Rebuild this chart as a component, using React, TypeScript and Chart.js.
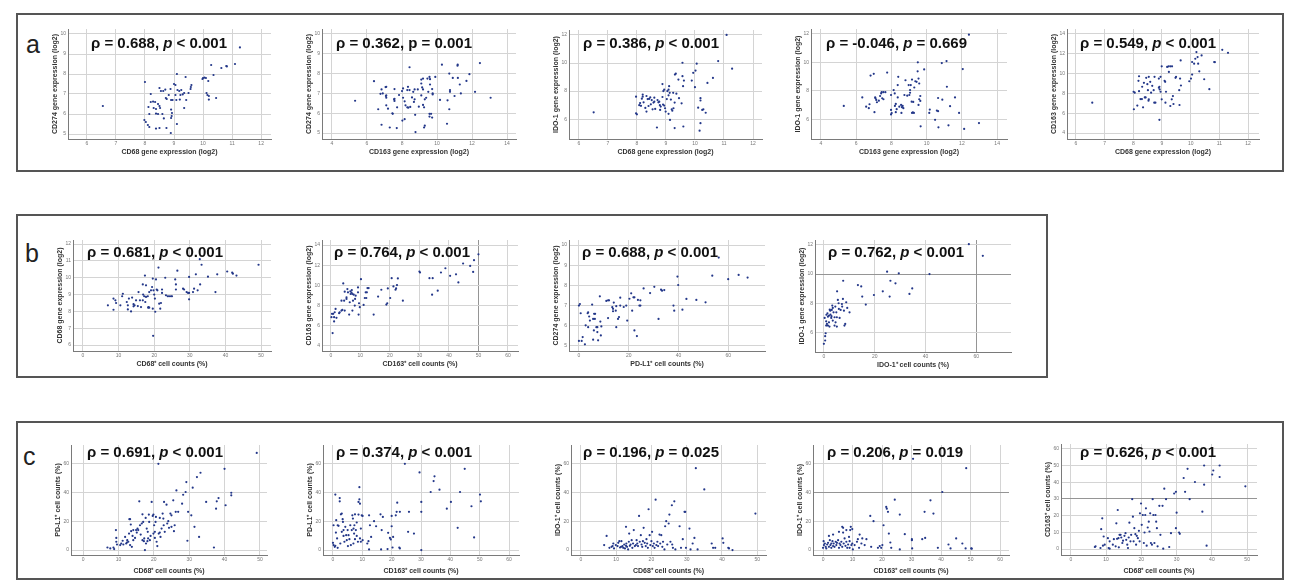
import React, { useEffect, useRef } from 'react';
import { Chart, registerables } from 'chart.js';
Chart.register(...registerables);

type Pt = [number, number];

// ---------- data (x, y) ----------
const a1Points: Pt[] = [[6.55,6.4],[8.0,7.6],[7.98,5.7],[8.03,5.6],[8.1,5.45],[8.15,5.35],[8.15,6.0],[8.12,6.35],[8.2,7.0],[8.2,6.6],[8.28,6.62],[8.3,6.3],[8.35,6.6],[8.38,6.25],[8.38,6.02],[8.45,6.5],[8.45,6.0],[8.38,5.27],[8.5,7.3],[8.5,6.4],[8.52,6.3],[8.5,5.3],[8.55,7.15],[8.6,6.0],[8.63,7.15],[8.65,5.78],[8.7,7.22],[8.72,6.8],[8.75,6.75],[8.74,5.3],[8.82,6.95],[8.88,7.25],[8.9,6.7],[8.9,6.22],[8.93,6.05],[8.92,5.9],[8.9,5.8],[8.89,5.05],[8.95,6.7],[9.0,7.5],[9.05,7.45],[9.05,6.95],[9.08,6.7],[9.1,8.0],[9.1,5.5],[9.12,7.2],[9.18,7.15],[9.2,6.72],[9.22,6.95],[9.25,7.2],[9.3,6.98],[9.35,6.3],[9.35,7.05],[9.4,7.85],[9.42,6.7],[9.5,7.05],[9.57,7.25],[9.58,7.35],[9.6,7.45],[9.98,7.75],[10.0,7.8],[10.05,7.82],[10.1,7.8],[10.12,7.05],[10.15,6.95],[10.18,7.65],[10.2,6.9],[10.2,6.72],[10.28,8.45],[10.36,7.95],[10.45,6.8],[10.63,8.3],[10.8,8.4],[10.82,8.38],[11.1,8.5],[11.27,9.33]];

const a2Points: Pt[] = [[5.32,6.63],[6.4,7.62],[6.64,6.2],[6.77,6.98],[6.83,7.2],[6.9,7.0],[6.83,5.42],[7.06,7.32],[7.1,7.33],[7.08,6.87],[7.1,6.9],[7.1,6.78],[7.1,6.4],[7.2,6.23],[7.3,5.28],[7.45,6.0],[7.47,5.97],[7.55,6.7],[7.57,6.62],[7.57,6.73],[7.57,7.22],[7.7,5.25],[7.72,6.3],[7.83,6.92],[8.0,7.12],[8.06,7.25],[8.06,6.78],[8.02,5.63],[8.15,5.7],[8.15,6.6],[8.2,6.4],[8.3,6.3],[8.36,6.28],[8.3,7.17],[8.34,7.33],[8.43,7.17],[8.43,8.32],[8.47,6.32],[8.57,6.8],[8.64,7.08],[8.72,7.2],[8.72,6.7],[8.68,6.57],[8.75,5.92],[8.77,5.05],[8.9,7.2],[8.96,6.33],[9.1,6.9],[9.1,7.5],[9.1,7.7],[9.15,7.3],[9.2,7.2],[9.2,6.42],[9.26,6.3],[9.26,5.28],[9.3,5.37],[9.2,7.75],[9.3,6.7],[9.38,6.78],[9.45,7.75],[9.5,7.08],[9.57,7.83],[9.6,7.72],[9.6,7.45],[9.57,5.97],[9.66,5.97],[9.57,5.83],[9.72,5.78],[9.72,7.22],[9.75,7.0],[9.75,6.95],[9.9,7.83],[10.17,6.67],[10.28,8.45],[10.57,5.47],[10.6,6.65],[10.7,8.0],[10.74,7.17],[10.74,7.08],[10.7,6.2],[10.9,7.78],[11.0,6.87],[11.17,8.4],[11.18,8.45],[11.19,7.78],[11.3,7.45],[11.36,7.0],[11.68,7.63],[11.85,7.97],[12.17,7.08],[12.45,8.53],[13.06,6.78]];

const a3Points: Pt[] = [[6.51,6.49],[7.97,7.6],[7.97,6.42],[8.0,6.35],[8.08,7.0],[8.11,7.15],[8.14,6.95],[8.17,7.46],[8.2,7.75],[8.2,7.6],[8.23,7.2],[8.29,6.8],[8.33,6.54],[8.33,7.65],[8.37,7.43],[8.4,6.94],[8.42,7.44],[8.46,7.55],[8.48,7.06],[8.51,7.36],[8.54,6.7],[8.57,7.18],[8.6,7.25],[8.6,7.53],[8.63,6.73],[8.69,5.41],[8.71,7.36],[8.74,7.2],[8.77,7.25],[8.79,7.0],[8.82,6.9],[8.8,6.66],[8.88,7.58],[8.9,7.04],[8.94,6.97],[8.88,8.5],[8.91,8.0],[8.94,8.1],[8.97,6.78],[8.99,6.54],[9.03,7.43],[9.05,8.0],[9.09,8.1],[9.09,7.7],[9.09,6.38],[9.11,8.35],[9.13,7.88],[9.17,7.4],[9.14,5.95],[9.2,6.7],[9.22,6.6],[9.26,6.78],[9.25,7.88],[9.3,7.18],[9.31,9.18],[9.34,9.24],[9.36,7.82],[9.3,5.37],[9.43,8.82],[9.45,7.5],[9.54,7.13],[9.57,10.02],[9.57,9.06],[9.59,8.35],[9.62,8.75],[9.6,5.48],[9.89,8.75],[9.94,9.3],[10.0,8.28],[10.02,9.46],[10.06,9.95],[10.11,6.82],[10.16,5.18],[10.19,7.5],[10.19,7.33],[10.19,5.72],[10.25,6.66],[10.29,6.7],[10.37,6.46],[10.43,8.58],[10.62,8.94],[10.8,10.14],[11.09,12.0],[11.28,9.6]];

const a4Points: Pt[] = [[5.3,6.93],[6.35,7.53],[6.57,6.88],[6.72,6.77],[6.76,7.05],[6.82,9.07],[7.0,9.19],[7.04,6.49],[7.08,7.53],[7.1,7.47],[7.14,7.35],[7.18,7.19],[7.29,7.3],[7.36,7.63],[7.42,7.81],[7.45,7.9],[7.48,7.47],[7.55,7.4],[7.55,7.9],[7.66,7.9],[7.76,9.28],[7.98,7.7],[7.98,6.65],[7.98,6.33],[8.02,6.43],[8.13,8.05],[8.19,7.81],[8.2,6.93],[8.25,7.07],[8.25,6.49],[8.3,6.7],[8.36,8.4],[8.36,7.53],[8.39,8.98],[8.45,6.88],[8.55,7.0],[8.57,6.44],[8.6,6.84],[8.64,6.93],[8.68,6.77],[8.74,7.7],[8.8,8.74],[8.9,7.65],[8.98,8.4],[9.02,7.7],[9.06,8.05],[9.06,7.86],[9.1,8.4],[9.15,7.23],[9.17,6.44],[9.17,8.79],[9.22,6.47],[9.28,6.44],[9.24,7.21],[9.3,8.23],[9.36,8.67],[9.43,8.63],[9.49,9.37],[9.5,10.0],[9.54,7.0],[9.54,8.86],[9.58,8.51],[9.58,7.4],[9.64,7.63],[9.64,7.28],[9.66,5.49],[9.86,9.5],[10.15,6.44],[10.18,6.67],[10.48,5.95],[10.58,6.6],[10.65,6.56],[10.65,7.49],[10.67,5.42],[10.89,7.37],[10.86,9.95],[11.13,10.09],[11.15,8.28],[11.24,5.56],[11.33,6.91],[11.61,7.53],[11.84,6.44],[12.05,9.53],[12.13,5.31],[12.4,11.95],[12.97,5.72]];

const a5Points: Pt[] = [[6.57,7.07],[8.02,6.4],[8.01,8.17],[8.05,8.07],[8.14,6.77],[8.18,9.27],[8.2,9.73],[8.2,8.23],[8.25,7.43],[8.3,7.43],[8.31,8.67],[8.34,6.6],[8.37,9.07],[8.4,7.6],[8.43,7.6],[8.45,9.57],[8.49,8.93],[8.51,8.33],[8.54,9.67],[8.53,7.27],[8.54,7.4],[8.59,9.17],[8.62,8.07],[8.66,8.77],[8.71,8.33],[8.73,7.07],[8.77,7.07],[8.74,9.67],[8.89,9.5],[8.91,8.67],[8.89,8.57],[8.92,8.4],[8.95,8.17],[8.91,5.33],[8.95,9.67],[8.99,10.73],[8.99,7.4],[9.09,9.27],[9.11,9.17],[9.12,7.07],[9.14,8.17],[9.18,10.67],[9.23,10.73],[9.24,10.17],[9.29,10.73],[9.35,10.73],[9.29,6.73],[9.34,7.4],[9.38,7.73],[9.4,6.93],[9.47,9.57],[9.49,9.67],[9.6,8.33],[9.61,6.83],[9.63,9.5],[9.65,11.33],[9.66,8.8],[9.95,9.23],[10.01,9.5],[10.05,9.9],[10.05,11.17],[10.12,11.0],[10.16,11.5],[10.2,12.17],[10.24,11.67],[10.26,11.0],[10.3,10.23],[10.38,11.83],[10.47,9.43],[10.65,8.43],[10.82,11.17],[10.84,11.15],[11.1,12.4],[11.3,12.1]];

const b1Points: Pt[] = [[7.0,8.36],[8.57,8.1],[8.57,8.76],[9.1,8.66],[9.3,8.5],[10.5,8.36],[11.0,8.9],[11.2,9.05],[12.3,8.56],[12.6,8.36],[12.9,8.76],[12.6,8.12],[13.5,8.0],[13.8,8.82],[14.2,8.3],[14.2,8.43],[14.5,8.36],[14.9,8.66],[15.4,8.32],[15.6,9.15],[16.0,8.66],[16.3,8.26],[16.8,9.6],[16.8,8.66],[16.9,9.0],[17.2,8.9],[17.4,10.13],[17.5,8.56],[17.7,9.55],[17.7,8.86],[18.2,8.9],[18.3,8.22],[18.4,8.26],[18.6,8.22],[18.6,9.15],[19.1,9.25],[19.4,9.45],[19.6,9.95],[19.6,8.16],[19.7,6.55],[19.8,9.25],[20.0,9.0],[20.2,8.76],[20.3,7.98],[20.5,9.9],[20.7,9.3],[20.9,9.25],[21.2,10.6],[21.4,8.46],[21.7,8.16],[21.9,8.5],[22.2,9.3],[22.2,9.1],[23.1,10.0],[23.3,8.96],[23.8,8.9],[24.2,8.9],[24.7,8.9],[25.0,8.9],[25.9,9.9],[26.1,9.6],[26.1,9.3],[26.5,10.42],[28.1,9.35],[28.4,9.3],[29.1,9.15],[29.5,9.1],[29.8,10.05],[29.8,8.72],[29.8,9.1],[30.9,9.15],[31.2,9.35],[31.7,10.2],[32.2,9.25],[32.8,11.1],[32.9,9.6],[33.3,10.77],[35.1,10.06],[37.2,9.15],[37.7,10.2],[40.5,10.37],[41.9,10.3],[42.1,10.24],[43.1,10.13],[49.3,10.77]];

const b2Points: Pt[] = [[0.2,6.85],[0.4,7.18],[0.8,7.18],[0.6,5.28],[1.1,6.85],[1.1,6.43],[1.3,7.34],[1.6,7.67],[1.9,6.79],[2.8,7.25],[3.0,7.34],[3.6,8.49],[3.6,7.51],[3.9,7.57],[4.2,10.2],[4.5,8.49],[4.7,7.51],[4.7,9.38],[5.3,8.66],[5.3,8.82],[5.6,9.64],[5.8,9.31],[6.2,7.11],[6.4,8.33],[6.6,9.41],[6.7,9.15],[7.0,9.28],[7.1,9.54],[7.3,9.15],[7.3,7.51],[7.5,8.49],[7.75,9.08],[8.1,8.0],[8.2,8.66],[8.4,8.98],[9.2,9.8],[9.2,9.31],[9.4,7.11],[9.55,8.23],[9.8,7.84],[10.2,10.62],[11.1,8.07],[11.5,8.75],[11.8,9.31],[12.2,9.31],[12.0,8.75],[12.4,9.74],[12.8,9.74],[14.5,7.11],[16.0,8.89],[17.1,9.57],[19.3,9.7],[18.8,8.1],[19.1,8.23],[20.1,8.75],[20.6,10.72],[21.2,9.9],[21.9,9.57],[22.1,9.7],[22.4,10.03],[22.7,10.69],[24.4,8.49],[30.0,11.38],[30.2,11.28],[33.4,10.72],[34.5,10.72],[34.3,9.08],[36.2,9.48],[37.3,11.28],[38.8,11.7],[40.4,10.95],[42.4,11.1],[43.2,10.3],[44.8,12.17],[47.2,11.93],[48.2,11.34],[48.5,12.5],[50.0,13.08]];

const b3Points: Pt[] = [[0.0,7.0],[0.4,7.08],[0.0,5.25],[1.1,5.25],[0.7,6.62],[1.5,5.44],[2.4,5.08],[2.7,6.02],[3.5,6.62],[3.7,6.67],[3.7,5.93],[4.1,6.46],[4.4,6.26],[5.3,7.05],[5.7,6.34],[5.7,5.31],[6.0,5.77],[6.1,6.59],[6.5,6.59],[6.4,6.34],[7.0,5.93],[7.4,5.93],[7.4,5.69],[7.7,5.28],[8.4,7.46],[8.6,6.21],[9.0,5.97],[8.8,5.52],[11.0,7.23],[11.7,7.26],[12.1,7.26],[11.7,6.38],[13.4,6.92],[13.7,6.84],[13.7,6.72],[14.0,7.15],[14.8,6.75],[15.0,6.97],[15.0,5.93],[15.7,6.34],[16.1,6.43],[16.6,7.39],[16.6,7.0],[18.0,6.93],[19.0,7.0],[19.4,6.26],[20.3,7.34],[21.0,7.61],[21.4,6.75],[21.9,7.41],[22.3,7.41],[22.3,5.77],[23.3,5.49],[23.7,7.28],[24.3,7.0],[24.7,7.0],[24.7,7.26],[26.0,7.85],[28.6,7.62],[30.3,7.93],[32.0,6.34],[33.0,7.79],[33.4,7.74],[34.3,7.77],[38.0,7.0],[38.3,6.75],[39.6,8.44],[39.9,8.02],[41.6,6.8],[43.2,7.33],[47.2,7.28],[50.9,7.16],[53.6,8.48],[56.2,9.38],[60.0,8.31],[64.2,8.52],[67.8,8.39]];

const b4Points: Pt[] = [[0.0,5.2],[0.5,5.43],[0.5,5.73],[0.7,5.93],[0.3,6.98],[0.9,6.75],[1.2,6.57],[1.6,6.46],[0.9,6.46],[1.6,7.07],[2.0,7.14],[2.0,6.68],[2.2,6.39],[2.5,7.48],[2.6,7.21],[2.9,6.98],[3.1,7.53],[3.3,7.83],[3.5,7.67],[3.5,6.8],[3.8,7.37],[4.2,7.03],[4.2,6.46],[4.5,7.76],[4.6,6.68],[4.9,7.37],[5.1,6.39],[5.1,7.03],[5.2,8.81],[5.5,8.22],[5.8,7.99],[5.9,7.6],[6.2,6.98],[6.6,7.53],[7.1,7.94],[7.2,7.76],[7.5,8.29],[7.6,9.54],[7.9,7.48],[8.1,6.46],[8.4,6.57],[8.8,8.06],[9.2,7.67],[10.1,7.37],[1.4,7.3],[2.3,7.55],[3.0,7.1],[1.0,7.2],[13.4,9.24],[14.7,9.15],[15.1,8.45],[16.5,7.9],[19.7,8.56],[23.2,8.81],[24.9,10.16],[25.9,8.45],[26.2,9.54],[28.2,9.36],[29.5,10.05],[33.7,8.63],[34.8,9.01],[41.6,10.0],[57.1,12.05],[62.6,11.25]];

const c1Points: Pt[] = [[6.9,1.8],[7.7,1.2],[8.6,1.8],[8.8,0.7],[9.3,13.9],[9.4,8.5],[9.4,5.8],[9.6,3.9],[10.5,3.5],[10.8,4.6],[11.2,6.5],[11.4,3.9],[11.9,9.2],[12.2,4.6],[12.4,5.3],[12.5,6.9],[12.8,5.8],[13.0,11.5],[13.1,21.5],[13.3,21.5],[13.3,3.5],[13.5,17.8],[13.6,13.2],[13.8,2.3],[14.0,9.9],[14.2,6.9],[14.2,13.9],[14.7,8.5],[15.0,13.9],[15.2,12.2],[15.4,15.0],[15.6,13.9],[15.9,33.9],[16.1,17.3],[16.3,10.8],[16.6,18.5],[16.8,24.9],[16.8,6.9],[17.0,19.6],[17.2,6.2],[17.3,8.1],[17.5,0.0],[17.7,22.4],[17.8,4.6],[18.0,15.0],[18.2,6.2],[18.3,12.7],[18.4,8.1],[18.6,24.7],[18.7,19.6],[18.9,6.9],[19.1,9.9],[19.4,33.5],[19.7,23.8],[19.9,24.7],[19.9,11.5],[20.1,17.3],[20.3,12.7],[20.3,8.5],[20.5,19.6],[20.6,23.1],[20.8,5.8],[21.0,2.8],[21.3,60.0],[21.4,11.5],[21.7,12.2],[21.7,22.4],[21.9,9.2],[22.2,15.0],[22.5,25.4],[22.7,21.9],[22.8,17.3],[22.9,33.5],[23.1,12.7],[23.6,31.6],[23.8,18.5],[24.1,20.1],[24.3,15.5],[24.7,25.4],[25.0,16.2],[25.0,24.2],[25.5,34.6],[25.7,13.2],[25.9,17.3],[26.2,26.6],[26.4,41.5],[26.9,26.6],[28.0,32.3],[28.3,38.5],[29.0,40.4],[29.2,47.3],[29.5,6.5],[29.7,26.6],[30.6,24.2],[31.0,43.4],[31.5,16.2],[32.2,50.8],[32.8,9.2],[33.2,53.8],[34.8,33.5],[37.0,1.8],[37.6,28.8],[37.8,33.9],[38.3,36.2],[40.0,56.5],[40.3,31.2],[41.9,39.9],[41.9,38.1],[49.1,67.6]];

const c2Points: Pt[] = [[0.0,5.1],[0.2,3.5],[0.2,17.3],[0.6,2.3],[0.8,3.0],[0.8,38.6],[1.0,12.2],[1.1,20.8],[1.4,8.1],[1.6,1.6],[1.6,17.3],[1.9,16.9],[2.3,36.2],[2.3,33.9],[2.5,4.6],[2.7,24.9],[3.0,25.4],[3.0,12.7],[3.3,21.5],[3.4,19.6],[3.6,9.9],[3.6,13.9],[3.9,5.8],[4.2,16.2],[4.5,10.4],[4.7,6.9],[5.0,13.9],[5.1,2.8],[5.3,10.4],[5.6,7.6],[5.9,17.3],[6.1,3.5],[6.4,13.9],[6.6,24.2],[6.8,21.9],[6.97,4.6],[7.0,15.0],[7.2,11.5],[7.3,17.3],[7.5,7.6],[7.5,24.9],[7.8,13.9],[8.1,19.2],[8.1,9.9],[8.5,5.8],[8.7,24.7],[8.7,33.5],[9.0,35.3],[9.0,43.8],[9.2,32.3],[9.2,8.1],[9.5,15.0],[9.5,5.8],[9.8,24.2],[10.1,23.8],[10.1,6.9],[11.7,4.6],[12.1,6.2],[12.3,0.5],[12.3,24.2],[12.6,17.3],[13.0,9.2],[14.0,20.1],[14.7,16.6],[16.2,24.9],[16.4,0.5],[16.6,13.9],[17.0,23.1],[18.6,0.7],[18.8,12.0],[19.4,8.5],[19.7,7.4],[20.0,16.6],[20.0,23.8],[20.5,9.2],[20.3,1.8],[21.4,24.2],[21.7,26.6],[21.9,33.0],[22.6,1.8],[22.8,1.2],[22.8,26.6],[24.5,60.0],[25.6,12.7],[25.9,26.6],[27.6,11.5],[29.5,54.0],[30.1,26.6],[30.1,33.5],[30.1,0.0],[33.3,40.4],[34.3,48.0],[34.6,51.3],[36.3,42.0],[38.8,28.8],[40.2,33.5],[43.3,40.4],[42.5,15.5],[44.9,56.5],[47.2,30.5],[48.1,8.8],[50.1,38.6],[50.4,33.9]];

const c3Points: Pt[] = [[6.6,3.5],[7.3,9.9],[8.1,1.6],[8.7,2.3],[9.0,2.8],[9.2,4.6],[9.4,1.2],[9.9,3.5],[10.4,2.8],[10.6,5.1],[10.9,6.2],[11.1,1.8],[11.4,2.3],[11.5,6.2],[11.8,2.8],[12.0,1.6],[12.3,3.9],[12.5,1.2],[12.8,16.2],[12.8,3.0],[12.9,4.6],[13.1,2.3],[13.4,0.5],[13.6,5.8],[13.7,11.5],[13.9,3.0],[14.1,3.9],[14.4,6.9],[14.6,1.6],[14.8,4.6],[15.0,13.9],[15.3,2.8],[15.6,3.5],[15.8,6.9],[16.0,4.6],[16.2,2.8],[16.5,23.8],[16.7,5.8],[17.0,10.4],[17.2,3.9],[17.4,2.3],[17.6,6.2],[17.8,15.5],[18.1,5.1],[18.4,2.8],[18.6,7.6],[18.8,4.6],[19.0,1.6],[19.2,28.4],[19.5,10.4],[19.7,3.5],[20.0,6.2],[20.2,12.7],[20.4,2.8],[20.7,4.6],[20.9,1.6],[21.2,35.1],[21.4,3.5],[21.7,5.8],[21.9,2.8],[22.3,10.8],[22.5,4.6],[22.8,10.4],[23.1,2.3],[23.3,5.8],[23.7,0.5],[23.9,16.6],[24.2,20.1],[24.5,3.9],[24.9,18.5],[25.1,24.7],[25.4,5.8],[25.8,31.2],[25.9,3.9],[26.1,1.6],[26.5,33.9],[26.8,0.5],[28.0,16.6],[28.4,1.6],[28.9,7.6],[29.4,26.6],[29.6,26.6],[29.8,1.6],[30.8,15.0],[31.1,0.5],[31.7,4.6],[32.2,8.5],[32.6,57.0],[33.1,0.5],[35.0,42.2],[37.1,4.6],[37.5,1.6],[38.1,1.6],[40.2,8.1],[40.4,5.1],[41.8,1.6],[42.0,1.2],[43.0,0.0],[49.5,25.4]];

const c4Points: Pt[] = [[0.0,1.6],[0.3,3.5],[0.6,4.6],[0.2,6.2],[0.9,2.3],[1.1,1.2],[1.4,3.9],[1.7,5.1],[2.0,2.3],[2.3,6.9],[2.0,9.9],[2.5,3.5],[2.8,4.6],[2.8,1.6],[3.2,6.2],[3.4,2.8],[3.4,10.8],[3.6,4.6],[3.9,2.3],[4.3,5.8],[4.5,3.5],[4.7,5.1],[5.1,6.9],[5.4,1.6],[5.6,4.6],[5.4,12.7],[5.9,3.5],[6.2,5.8],[6.5,2.3],[6.5,16.2],[6.8,15.5],[6.8,12.2],[7.0,4.6],[7.3,8.1],[7.6,3.0],[7.9,13.9],[7.9,5.8],[8.2,1.6],[8.5,3.9],[8.8,9.2],[9.0,6.2],[9.0,1.6],[9.2,13.9],[9.4,16.2],[9.6,3.5],[9.9,4.6],[9.9,14.6],[10.1,0.5],[10.7,3.5],[11.5,5.8],[11.8,7.6],[12.2,1.6],[12.4,10.8],[13.0,4.6],[13.3,8.1],[14.1,3.5],[14.7,7.6],[16.0,23.8],[16.3,2.3],[17.1,20.1],[18.6,1.6],[19.2,2.8],[19.7,1.6],[20.1,3.5],[20.5,17.3],[21.4,30.0],[21.6,28.8],[22.0,26.6],[22.3,11.5],[22.8,5.3],[23.1,1.6],[24.3,35.1],[26.0,24.7],[26.0,0.5],[27.7,11.1],[30.1,6.9],[30.1,7.6],[30.2,1.2],[30.5,63.5],[33.6,7.6],[34.4,26.6],[34.6,8.5],[36.4,34.6],[37.4,25.4],[38.9,1.6],[40.4,40.4],[42.5,3.9],[43.2,1.2],[45.1,8.1],[47.2,4.6],[48.3,1.2],[48.5,57.0],[50.2,1.2],[50.4,1.0]];

const c5Points: Pt[] = [[6.8,1.2],[7.0,1.6],[8.4,0.6],[8.6,11.9],[8.9,18.4],[9.1,2.0],[9.3,7.5],[9.6,2.6],[10.5,6.5],[10.7,0.6],[11.0,0.2],[11.0,4.6],[11.9,2.6],[12.2,5.9],[12.7,1.6],[12.9,15.4],[13.1,6.1],[13.3,23.4],[13.5,6.5],[13.6,1.0],[13.8,8.5],[14.1,8.5],[14.3,6.9],[14.6,3.6],[14.8,5.0],[15.2,7.9],[15.5,9.5],[15.7,5.5],[16.0,2.6],[16.2,0.6],[16.4,6.9],[16.6,15.8],[16.9,4.6],[17.1,8.5],[17.4,29.9],[17.6,19.4],[17.8,4.6],[18.0,12.5],[18.3,8.9],[18.5,2.6],[18.7,7.9],[19.0,6.5],[19.3,10.9],[19.5,4.6],[19.6,21.4],[19.9,27.3],[20.1,14.5],[20.4,20.4],[20.7,3.6],[20.9,9.9],[21.1,20.4],[21.3,24.4],[21.5,2.0],[21.8,12.9],[22.1,16.4],[22.3,10.5],[22.5,21.4],[22.7,3.6],[23.0,2.6],[23.2,29.9],[23.4,20.4],[23.7,3.6],[24.0,20.4],[24.2,16.4],[24.4,12.5],[24.6,1.6],[25.1,25.9],[25.4,8.5],[26.0,25.9],[26.2,0.2],[26.5,36.2],[27.0,29.9],[27.9,1.2],[28.4,9.5],[29.3,33.3],[29.8,34.3],[30.0,21.8],[29.8,12.5],[30.7,9.9],[30.9,9.1],[32.0,42.6],[32.4,34.3],[33.1,48.1],[33.7,29.9],[35.2,40.2],[37.3,22.4],[37.8,50.1],[37.8,38.6],[38.5,2.0],[40.1,44.7],[40.4,47.1],[42.2,50.1],[42.2,43.2],[49.5,37.6]];

// ---------- tick labels ----------
const ticks6to12 = [6, 7, 8, 9, 10, 11, 12];
const ticks4to14by2 = [4, 6, 8, 10, 12, 14];
const ticks5to10 = [5, 6, 7, 8, 9, 10];
const ticks6to12by2 = [6, 8, 10, 12];
const ticks6to12by1 = [6, 7, 8, 9, 10, 11, 12];
const ticks0to50 = [0, 10, 20, 30, 40, 50];
const ticks0to60by10 = [0, 10, 20, 30, 40, 50, 60];
const ticks0to60by20 = [0, 20, 40, 60];

// ---------- annotations ----------
const rhoTexts = ['0.688', '0.362', '0.386', '-0.046', '0.549', '0.681', '0.764', '0.688', '0.762', '0.691', '0.374', '0.196', '0.206', '0.626'];
const pTexts = ['< 0.001', '= 0.001', '< 0.001', '= 0.669', '< 0.001', '< 0.001', '< 0.001', '< 0.001', '< 0.001', '< 0.001', '< 0.001', '= 0.025', '= 0.019', '< 0.001'];

const FONT = '"Liberation Sans", Arial, Helvetica, sans-serif';

interface Spec {
  points: Pt[];
  L: number; T: number; R: number; B: number;
  xMin: number; xMax: number; yMin: number; yMax: number;
  xTicks: number[]; yTicks: number[];
  xTitle: string; yTitle: string;
  xGap: number;
  rhoX: number; rhoY: number; pItalic: boolean;
  refX?: number[]; refY?: number[];
}

const specs: Spec[] = [
  { points: a1Points, L: 68, T: 28, R: 272, B: 139, xMin: 5.35, xMax: 12.34, yMin: 4.75, yMax: 10.25, xTicks: ticks6to12, yTicks: ticks5to10, xTitle: 'CD68 gene expression (log2)', yTitle: 'CD274 gene expression (log2)', xGap: 13, rhoX: 91, rhoY: 43, pItalic: true },
  { points: a2Points, L: 322, T: 28, R: 517, B: 139, xMin: 3.43, xMax: 14.51, yMin: 4.7, yMax: 10.25, xTicks: ticks4to14by2, yTicks: ticks5to10, xTitle: 'CD163 gene expression (log2)', yTitle: 'CD274 gene expression (log2)', xGap: 13, rhoX: 336, rhoY: 43, pItalic: false },
  { points: a3Points, L: 569, T: 29, R: 763, B: 139, xMin: 5.66, xMax: 12.31, yMin: 4.59, yMax: 12.35, xTicks: ticks6to12, yTicks: ticks6to12by2, xTitle: 'CD68 gene expression (log2)', yTitle: 'IDO-1 gene expression (log2)', xGap: 13, rhoX: 583, rhoY: 43, pItalic: true },
  { points: a4Points, L: 811, T: 28, R: 1008, B: 139, xMin: 3.44, xMax: 14.56, yMin: 4.6, yMax: 12.35, xTicks: ticks4to14by2, yTicks: ticks6to12by2, xTitle: 'CD163 gene expression (log2)', yTitle: 'IDO-1 gene expression (log2)', xGap: 13, rhoX: 826, rhoY: 43, pItalic: true },
  { points: a5Points, L: 1067, T: 28, R: 1260, B: 139, xMin: 5.69, xMax: 12.38, yMin: 3.4, yMax: 14.5, xTicks: ticks6to12, yTicks: ticks4to14by2, xTitle: 'CD68 gene expression (log2)', yTitle: 'CD163 gene expression (log2)', xGap: 13, rhoX: 1080, rhoY: 43, pItalic: true },
  { points: b1Points, L: 73, T: 239, R: 272, B: 351, xMin: -2.8, xMax: 52.8, yMin: 5.65, yMax: 12.24, xTicks: ticks0to50, yTicks: ticks6to12by1, xTitle: 'CD68\u207A cell counts (%)', yTitle: 'CD68 gene expression (log2)', xGap: 13, rhoX: 87, rhoY: 252, pItalic: true },
  { points: b2Points, L: 322, T: 239, R: 519, B: 351, xMin: -3.0, xMax: 63.4, yMin: 3.5, yMax: 14.5, xTicks: ticks0to60by10, yTicks: ticks4to14by2, xTitle: 'CD163\u207A cell counts (%)', yTitle: 'CD163 gene expression (log2)', xGap: 13, rhoX: 334, rhoY: 252, pItalic: true, refX: [50] },
  { points: b3Points, L: 569, T: 239, R: 766, B: 351, xMin: -4.0, xMax: 74.8, yMin: 4.75, yMax: 10.25, xTicks: ticks0to60by20, yTicks: ticks5to10, xTitle: 'PD-L1\u207A cell counts (%)', yTitle: 'CD274 gene expression (log2)', xGap: 13, rhoX: 582, rhoY: 252, pItalic: true },
  { points: b4Points, L: 815, T: 239, R: 1012, B: 352, xMin: -3.5, xMax: 73.7, yMin: 4.64, yMax: 12.34, xTicks: ticks0to60by20, yTicks: ticks6to12by2, xTitle: 'IDO-1\u207A cell counts (%)', yTitle: 'IDO-1 gene expression (log2)', xGap: 13, rhoX: 828, rhoY: 252, pItalic: true, refY: [10], refX: [60] },
  { points: c1Points, L: 71, T: 444, R: 268, B: 555, xMin: -3.4, xMax: 52.0, yMin: -3.4, yMax: 73.1, xTicks: ticks0to50, yTicks: ticks0to60by20, xTitle: 'CD68\u207A cell counts (%)', yTitle: 'PD-L1\u207A cell counts (%)', xGap: 16, rhoX: 87, rhoY: 452, pItalic: true },
  { points: c2Points, L: 323, T: 444, R: 520, B: 555, xMin: -3.4, xMax: 63.4, yMin: -3.4, yMax: 73.1, xTicks: ticks0to60by10, yTicks: ticks0to60by20, xTitle: 'CD163\u207A cell counts (%)', yTitle: 'PD-L1\u207A cell counts (%)', xGap: 16, rhoX: 336, rhoY: 452, pItalic: true },
  { points: c3Points, L: 571, T: 444, R: 767, B: 555, xMin: -2.8, xMax: 52.5, yMin: -3.4, yMax: 73.1, xTicks: ticks0to50, yTicks: ticks0to60by20, xTitle: 'CD68\u207A cell counts (%)', yTitle: 'IDO-1\u207A cell counts (%)', xGap: 16, rhoX: 583, rhoY: 452, pItalic: true },
  { points: c4Points, L: 813, T: 444, R: 1010, B: 555, xMin: -3.4, xMax: 63.0, yMin: -3.4, yMax: 73.1, xTicks: ticks0to60by10, yTicks: ticks0to60by20, xTitle: 'CD163\u207A cell counts (%)', yTitle: 'IDO-1\u207A cell counts (%)', xGap: 16, rhoX: 827, rhoY: 452, pItalic: true, refY: [40] },
  { points: c5Points, L: 1061, T: 443, R: 1258, B: 555, xMin: -2.8, xMax: 52.8, yMin: -3.6, yMax: 63, xTicks: ticks0to50, yTicks: ticks0to60by10, xTitle: 'CD68\u207A cell counts (%)', yTitle: 'CD163\u207A cell counts (%)', xGap: 16, rhoX: 1080, rhoY: 452, pItalic: true, refY: [30] },
];

const PAD_TOP = 4;
const PAD_RIGHT = 3;
const Y_AXIS_W = 17;

function Scatter({ spec }: { spec: Spec }) {
  const ref = useRef<HTMLCanvasElement>(null);
  const xAxisH = spec.xGap + 4;
  const w = Y_AXIS_W + (spec.R - spec.L) + PAD_RIGHT;
  const h = PAD_TOP + (spec.B - spec.T) + xAxisH;
  useEffect(() => {
    const gridColor = (refs?: number[]) => (c: any) =>
      refs && c.tick && refs.includes(c.tick.value) ? '#959595' : '#d4d4d4';
    const chart = new Chart(ref.current as HTMLCanvasElement, {
      type: 'scatter',
      data: {
        datasets: [{
          data: spec.points.map(([x, y]) => ({ x, y })),
          pointRadius: 1.1,
          pointBackgroundColor: '#233789',
          pointBorderWidth: 0,
          showLine: false,
        }],
      },
      options: {
        responsive: false,
        animation: false,
        devicePixelRatio: 1,
        layout: { padding: { top: PAD_TOP, right: PAD_RIGHT, left: 0, bottom: 0 } },
        plugins: { legend: { display: false }, tooltip: { enabled: false } },
        scales: {
          x: {
            type: 'linear',
            min: spec.xMin,
            max: spec.xMax,
            afterBuildTicks: (s: any) => { s.ticks = spec.xTicks.map((v) => ({ value: v })); },
            afterFit: (s: any) => { s.height = xAxisH; },
            ticks: { font: { size: 5, family: FONT }, color: '#777', padding: 2, autoSkip: false, maxRotation: 0, callback: (v: any) => String(v) },
            grid: { color: gridColor(spec.refX), drawTicks: false, lineWidth: 1 },
            border: { color: '#7a7a7a', width: 1 },
            title: { display: true, text: spec.xTitle, font: { size: 7, weight: 'bold', family: FONT }, color: '#333', padding: 0 },
          },
          y: {
            type: 'linear',
            min: spec.yMin,
            max: spec.yMax,
            afterBuildTicks: (s: any) => { s.ticks = spec.yTicks.map((v) => ({ value: v })); },
            afterFit: (s: any) => { s.width = Y_AXIS_W; },
            ticks: { font: { size: 5, family: FONT }, color: '#777', padding: 2, autoSkip: false, callback: (v: any) => String(v) },
            grid: { color: gridColor(spec.refY), drawTicks: false, lineWidth: 1 },
            border: { color: '#7a7a7a', width: 1 },
            title: { display: true, text: spec.yTitle, font: { size: 7, weight: 'bold', family: FONT }, color: '#333', padding: 0 },
          },
        },
      },
    } as any);
    return () => chart.destroy();
  }, []);
  return (
    <canvas
      ref={ref}
      width={w}
      height={h}
      style={{ position: 'absolute', left: spec.L - Y_AXIS_W, top: spec.T - PAD_TOP, width: w, height: h }}
    />
  );
}

const boxStyle = (l: number, t: number, r: number, b: number): React.CSSProperties => ({
  position: 'absolute', left: l, top: t, width: r - l, height: b - t,
  border: '2px solid #555', boxSizing: 'border-box',
});

const letterStyle = (l: number, t: number): React.CSSProperties => ({
  position: 'absolute', left: l, top: t, fontFamily: FONT, fontSize: 25, lineHeight: '25px', color: '#222',
});

export default function App() {
  return (
    <div style={{ position: 'fixed', left: 0, top: 0, width: 1297, height: 583, background: '#fff', overflow: 'hidden' }}>
      <div style={boxStyle(16, 13, 1284, 172)} />
      <div style={boxStyle(16, 214, 1048, 378)} />
      <div style={boxStyle(16, 421, 1284, 580)} />
      <div style={letterStyle(26, 32)}>a</div>
      <div style={letterStyle(25, 241)}>b</div>
      <div style={letterStyle(23, 444)}>c</div>
      {specs.map((s, i) => <Scatter key={i} spec={s} />)}
      {specs.map((s, i) => (
        <div key={'t' + i} style={{ position: 'absolute', left: s.rhoX, top: s.rhoY - 9, fontFamily: FONT, fontWeight: 'bold', fontSize: 15, lineHeight: '18px', whiteSpace: 'nowrap', color: '#111' }}>
          {'\u03C1 = ' + rhoTexts[i] + ', '}
          {s.pItalic ? <i>p</i> : 'p'}
          {' ' + pTexts[i]}
        </div>
      ))}
    </div>
  );
}
